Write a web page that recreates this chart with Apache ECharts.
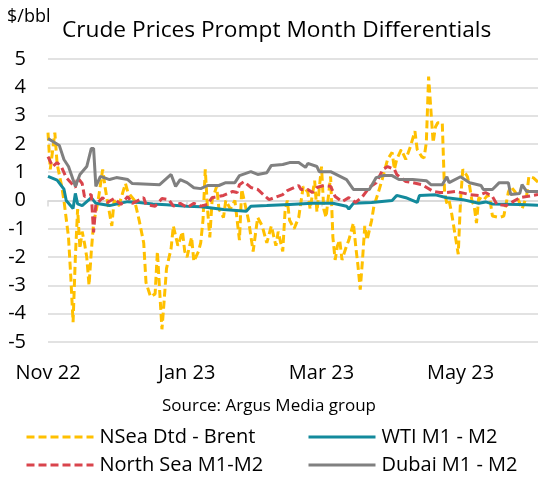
<!DOCTYPE html>
<html><head><meta charset="utf-8">
<script src="https://cdn.jsdelivr.net/npm/echarts@6/dist/echarts.min.js"></script>
<style>html,body{margin:0;padding:0;background:#fff}#c{width:538px;height:478px}</style>
</head><body><div id="c"></div>
<script>
// x positions are day offsets from 1 Nov 2022
const endDay = 215;
const xTickDays = [0, 61, 120, 181];
const xTickLabels = ['Nov 22', 'Jan 23', 'Mar 23', 'May 23'];
const yMin = -5, yMax = 5, yStep = 1;
const seriesNames = ['NSea Dtd - Brent', 'WTI M1 - M2', 'North Sea M1-M2', 'Dubai M1 - M2'];

const nseaDays = [0,1,3,4,6,7,9,10,11,12,13,14,15,16,17,18,19,20,22,24,25,26,28,29,31,34,35,38,40,42,43,45,47,48,49,50,51,52,54,55,57,59,60,61,63,64,66,67,68,69,70,71,72,74,75,77,78,80,82,83,84,85,88,90,92,94,96,98,100,101,103,104,105,106,108,110,112,114,115,117,118,120,121,122,124,125,126,127,128,129,131,132,134,135,136,137,138,139,140,142,143,145,147,149,151,152,153,155,157,159,161,162,164,165,166,167,168,169,170,171,173,174,175,176,177,179,180,181,182,184,185,186,187,188,189,191,193,194,195,198,200,202,203,205,207,208,210,211,213,215];
const nseaVals = [2.4,1.1,2.4,1.3,0.5,0,-1.3,-2.7,-4.3,-2,-0.3,-1.7,-1.1,-1.5,-2,-3.0,-1.8,-0.8,0,1.1,0.5,0,-0.9,0,-0.2,0.6,0.3,0,-0.7,-1.5,-2.9,-3.4,-3.3,-1.8,-3.2,-4.55,-3.5,-2.4,-1.7,-0.9,-1.6,-1.1,-1.8,-2,-1.3,-2.15,-1.8,-1.5,-0.7,1.1,-0.3,-1.3,0,0.5,-0.3,-0.6,0,-0.3,0,-0.7,-1.4,0.4,-0.7,-1.8,-0.6,-0.9,-1.5,-0.9,-1.6,-1.1,-1.8,-0.4,0,-0.7,-1.0,-0.6,0.5,0.3,-0.3,0.7,-0.4,1.2,-0.3,-0.6,0.85,-1.3,-2.1,-1.6,-1.4,-2.1,-1.6,-1.4,-0.8,-1.6,-2.3,-3.15,-2.1,-0.9,-1.4,-0.7,-0.2,0.3,0.85,1.45,1.7,1.1,1.45,1.8,1.45,1.9,2.45,1.8,1.55,1.5,2.05,4.38,3.2,2.05,2.6,2.75,2.75,0.3,-0.1,0,-0.4,-1.4,-1.9,0,1.1,0.85,0.5,0,-0.2,-0.8,0.1,0,0.2,0,-0.55,-0.6,-0.55,0.3,0.5,0.3,-0.1,-0.3,0.15,0.85,0.8,0.65];

const wtiDays = [0,4,7,8,11,12,13,15,19,21,27,35,40,46,52,61,67,70,77,87,89,96,106,116,125,131,132,134,142,151,153,157,162,163,170,175,182,189,192,195,207,215];
const wtiVals = [0.85,0.72,0.4,0,-0.28,0.25,-0.12,-0.18,0.1,-0.1,-0.18,-0.04,-0.07,-0.12,-0.15,-0.2,-0.22,-0.25,-0.32,-0.38,-0.2,-0.18,-0.14,-0.1,-0.1,-0.2,-0.3,-0.1,-0.07,0,0.18,0.1,-0.07,0.18,0.2,0.1,0.03,-0.1,-0.05,-0.12,-0.14,-0.17];

const northSeaDays = [0,2,4,6,8,12,13,15,16,19,20,21,24,26,29,32,35,37,42,43,47,50,53,55,58,61,64,67,70,72,77,81,83,84,86,89,92,96,97,103,105,110,111,114,116,118,121,124,126,129,132,135,138,141,144,147,149,152,153,157,160,164,169,172,175,179,185,189,192,195,197,201,204,207,210,215];
const northSeaVals = [1.55,1.2,1.34,1.17,0.81,0.46,0.81,0.6,0.14,0.21,-1.13,-0.14,0.1,-0.07,0.07,-0.14,0.14,-0.1,0.1,-0.14,-0.2,0.07,0.03,-0.2,-0.1,-0.25,-0.1,-0.2,-0.14,0.1,0.18,0.32,0.28,0.56,0.67,0.46,0.39,0.1,0.03,0.21,0.35,0.53,0.39,0.39,0.28,0.46,0.53,0.5,0.14,-0.04,0.1,-0.07,0.14,0.46,0.63,1.1,1.2,1.1,0.92,0.67,0.63,0.56,0.32,0.28,0.28,0.32,0.21,0.18,0.28,0.14,-0.14,-0.18,-0.04,0.1,0.14,0.21];

const dubaiDays = [0,5,7,9,12,14,17,19,20,21,23,27,30,35,37,49,54,56,58,61,64,67,70,75,78,82,84,89,92,96,98,103,106,110,113,114,118,119,124,131,134,141,144,147,151,154,160,166,168,173,175,176,181,185,190,191,195,198,202,203,207,208,210,215];
const dubaiVals = [2.19,1.94,1.45,1.2,0.5,0.92,1.2,1.84,1.84,0.5,0.85,0.74,0.81,0.74,0.6,0.56,0.92,0.5,0.74,0.63,0.45,0.42,0.53,0.53,0.63,0.63,0.88,1.02,0.92,0.98,1.24,1.27,1.34,1.34,1.17,1.31,1.2,1.02,1.02,0.74,0.39,0.39,0.81,0.88,0.88,0.74,0.74,0.7,0.56,0.56,0.84,0.63,0.84,0.63,0.53,0.39,0.39,0.63,0.63,0.21,0.25,0.56,0.32,0.32];

const colors = ['#FFC000', '#138A9C', '#D9444C', '#808080'];
const FONT = '"Open Sans", "Noto Sans", sans-serif';

function pairs(days, vals) { return days.map((d, i) => [d, vals[i]]); }

const chart = echarts.init(document.getElementById('c'), null, { renderer: 'canvas' });
const mkSeries = (i, days, vals, dashed) => ({
  name: seriesNames[i], type: 'line', xAxisIndex: 0, data: pairs(days, vals),
  showSymbol: false, symbol: 'none', animation: false, z: 2 + i,
  lineStyle: { color: colors[i], width: 3, type: dashed ? [8, 4] : 'solid' },
  itemStyle: { color: colors[i] }
});
const mkLegend = (name, left, top) => ({
  data: [name], left: left, top: top, itemWidth: 67, itemHeight: 14, padding: 0,
  itemStyle: { opacity: 0, borderWidth: 0 },
  lineStyle: { width: 3 },
  textStyle: { fontFamily: FONT, fontSize: 20, color: '#000', padding: [0, 0, 0, 1] },
  selectedMode: false
});

chart.setOption({
  animation: false,
  backgroundColor: '#fff',
  grid: { left: 48, right: 0, top: 59, bottom: 136, containLabel: false },
  graphic: [
    { type: 'text', left: 7, top: 8, style: { text: '$/bbl', font: '18px ' + FONT, fill: '#000' } },
    { type: 'text', left: 62, top: 19, style: { text: 'Crude Prices Prompt Month Differentials', font: '22.7px ' + FONT, fill: '#000' } },
    { type: 'text', left: 'center', top: 398, style: { text: 'Source: Argus Media group', font: '17px ' + FONT, fill: '#000' } }
  ],
  xAxis: [
    {
      type: 'value', min: 0, max: endDay, position: 'bottom',
      axisLine: { show: false, onZero: false }, axisTick: { show: false }, splitLine: { show: false },
      axisLabel: {
        customValues: xTickDays, margin: 21, fontFamily: FONT, fontSize: 20, color: '#000',
        hideOverlap: false, showMinLabel: true,
        formatter: (v) => xTickLabels[xTickDays.indexOf(v)] || ''
      }
    },
    {
      type: 'value', min: 0, max: endDay, position: 'top',
      axisLine: { show: true, onZero: true, lineStyle: { color: '#D9D9D9', width: 1.5 } },
      axisTick: { show: true, inside: true, length: 6, customValues: xTickDays, lineStyle: { color: '#D9D9D9', width: 1.5 } },
      axisLabel: { show: false }, splitLine: { show: false }
    }
  ],
  yAxis: {
    type: 'value', min: yMin, max: yMax, interval: yStep,
    axisLine: { show: false }, axisTick: { show: false },
    axisLabel: { margin: 22, fontFamily: FONT, fontSize: 20, color: '#000' },
    splitLine: { lineStyle: { color: '#D9D9D9', width: 1.5 } }
  },
  legend: [
    mkLegend(seriesNames[0], 25, 427),
    mkLegend(seriesNames[1], 307, 427),
    mkLegend(seriesNames[2], 25, 455),
    mkLegend(seriesNames[3], 307, 455)
  ],
  series: [
    mkSeries(0, nseaDays, nseaVals, true),
    mkSeries(1, wtiDays, wtiVals, false),
    mkSeries(2, northSeaDays, northSeaVals, true),
    mkSeries(3, dubaiDays, dubaiVals, false)
  ]
});
</script></body></html>
